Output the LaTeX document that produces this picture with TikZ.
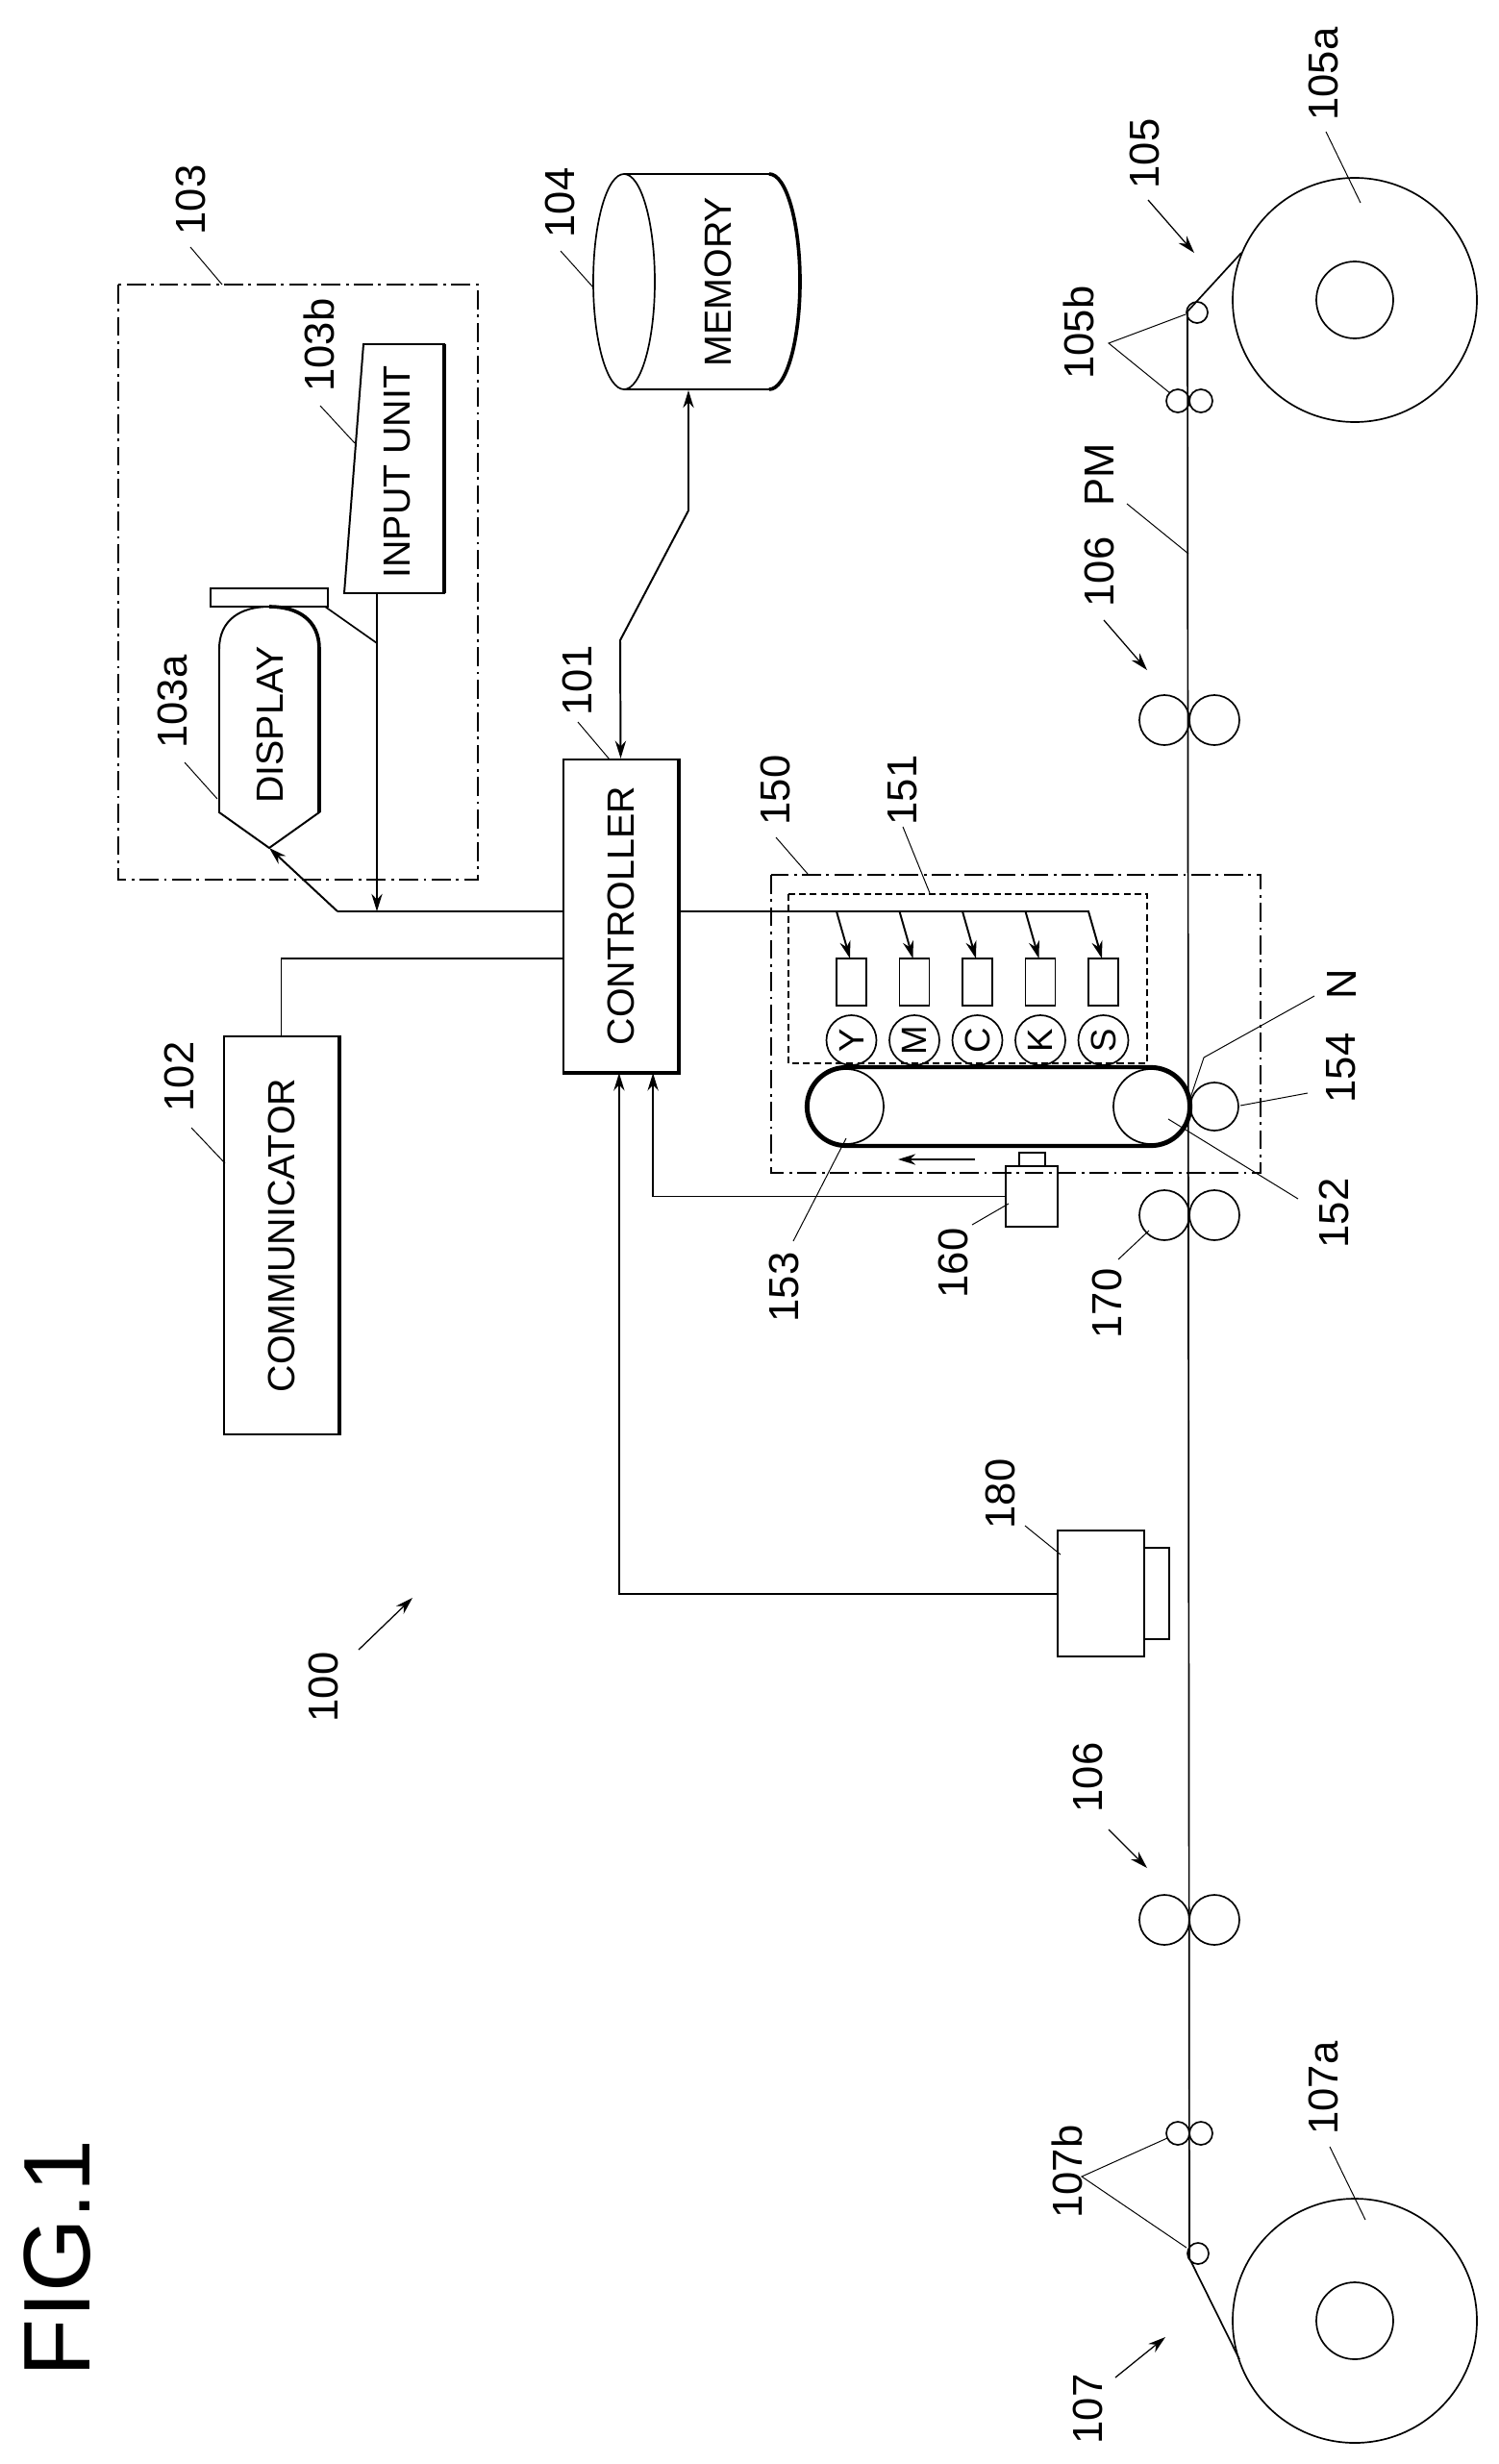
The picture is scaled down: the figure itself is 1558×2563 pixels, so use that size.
\documentclass[tikz,border=0pt]{standalone}
\usepackage{fontspec}
\setmainfont{Liberation Sans}
\usetikzlibrary{positioning,arrows.meta}

\begin{document}
\begin{tikzpicture}[x=0.025cm,y=-0.025cm,
      %style for arrows
      arrw/.style={line width=1.4pt, -{Stealth[length=13pt,width=8pt]}},
      % leader lines
      ldr/.style={line width=0.7pt},
      % labels
      lbl/.style={rotate=90, inner sep=0pt, font=\fontsize{31}{31}\selectfont},
      % boxes
      bx/.style={rectangle, draw=black, line width=1.6pt, inner sep=0pt, font=\fontsize{28}{28}\selectfont},
      dashdot/.style={line width=0.8pt, dash pattern=on 14pt off 4pt on 2pt off 4pt},
      rl/.style={line width=1.2pt}]
      \useasboundingbox (0,0) rectangle (1558,2563);

      %nodes
      \node[bx, minimum width=2.975cm, minimum height=8.125cm] (ctrl) at (645.5,952.5) {\rotatebox{90}{CONTROLLER}};
      \node[bx, minimum width=2.975cm, minimum height=10.35cm] (comm) at (292.5,1285) {\rotatebox{90}{COMMUNICATOR}};
      \node[bx, minimum width=1.35cm, minimum height=1.575cm] (sen) at (1073,1244.5) {};
      \node[bx, minimum width=2.25cm, minimum height=3.275cm] (cam) at (1145,1657.5) {};
      \draw[line width=2.6pt] (ctrl.north east) -- (ctrl.south east) -- (ctrl.south west);
      \draw[line width=2.4pt] (comm.north east) -- (comm.south east);
      \draw[line width=1.4pt] (1060,1213) rectangle (1087,1199);
      \draw[line width=1.4pt] (1190,1610) rectangle (1216,1705);

      % 103 operation unit
      \draw[dashdot] (123,296) rectangle (497,915);
      \draw[line width=1.4pt] (378,358) -- (462,358) -- (462,617) -- (358,617) -- cycle;
      \draw[line width=2.6pt] (462,358) -- (462,617);
      \node[font=\fontsize{28}{28}\selectfont] (inp) at (413,491) {\rotatebox{90}{INPUT UNIT}};
      \draw[line width=1.2pt] (219,612) rectangle (341,631);
      \draw[line width=1.4pt] (228,845) -- (228,675) .. controls (228,645) and (250,631) .. (280,631)
          .. controls (310,631) and (332,645) .. (332,675) -- (332,845) -- (280,882) -- cycle;
      \draw[line width=2.6pt] (280,631) .. controls (310,631) and (332,645) .. (332,675) -- (332,845);
      \node[font=\fontsize{28}{28}\selectfont] (dsp) at (281,754) {\rotatebox{90}{DISPLAY}};
      \coordinate (dsptip) at (280,882);
      \coordinate (inpb) at (392,617);
      \draw[line width=1.2pt] (338,631) -- (392,669);

      % 104 memory
      \draw[line width=1.2pt] (649,293) ellipse [x radius=32, y radius=112];
      \draw[line width=1.4pt] (649,181) -- (800,181) arc[start angle=-90, end angle=90, x radius=32, y radius=112] -- (649,405);
      \draw[line width=2.6pt] (800,181) arc[start angle=-90, end angle=90, x radius=32, y radius=112];
      \node[font=\fontsize{28}{28}\selectfont] (mem) at (747,293) {\rotatebox{90}{MEMORY}};
      \coordinate (memb) at (716,406);

      %edges
      \draw[arrw, {Stealth[length=13pt,width=8pt]}-{Stealth[length=13pt,width=8pt]}] (memb) -- (716,531) -- (645,666) -- (ctrl.north);
      \draw[line width=1.4pt] (ctrl.west |- 0,948) -- (351,948);
      \draw[arrw] (351,948) -- (dsptip);
      \draw[arrw] (inpb) -- (392,948);
      \draw[line width=1.4pt] (comm.north) |- (ctrl.west |- 0,997);
      \draw[line width=1.4pt] (ctrl.east |- 0,948) -- (1133,948);
      \draw[arrw] (sen.west) -| ([xshift=0.84cm]ctrl.south);
      \draw[arrw] (cam.west) -| ([xshift=-0.04cm]ctrl.south);

      % 150 image forming unit
      \draw[dashdot] (802,910) rectangle (1311,1220);
      \draw[line width=0.8pt, dash pattern=on 5pt off 3pt] (820,930) rectangle (1193,1106);
      \foreach \c [count=\i from 0] in {Y,M,C,K,S}{
        \draw[line width=1.2pt] (870+65.5*\i,997) rectangle +(31,49);
        \draw[arrw] (870+65.5*\i,948) -- (884+65.5*\i,997);
        \node[circle, draw, line width=1.2pt, minimum size=1.3cm, inner sep=0pt,
              font=\fontsize{26}{26}\selectfont] (ink\c) at (885.5+65.5*\i,1082) {\rotatebox{90}{\c}};
      }
      \draw[line width=3pt] (880,1110) -- (1197,1110) arc[start angle=-90, end angle=90, radius=41]
          -- (880,1192) arc[start angle=90, end angle=270, radius=41] -- cycle;
      \draw[rl] (880,1151) circle[radius=39];
      \draw[rl] (1197,1151) circle[radius=39];
      \draw[rl] (1263,1151) circle[radius=25];
      \draw[arrw] (1014,1206) -- (934,1206);

      % transport
      \draw[line width=1.2pt] (1291,263) -- (1235,324) -- (1237,2349) -- (1289,2454);
      \foreach \yy in {312,2414}{
        \draw[rl] (1409,\yy) circle[radius=127];
        \draw[rl] (1409,\yy) circle[radius=40];
      }
      \foreach \yy in {749,1264,1997}{
        \draw[rl] (1211,\yy) circle[radius=26];
        \draw[rl] (1263,\yy) circle[radius=26];
      }
      \foreach \yy in {417,2219}{
        \draw[rl] (1225,\yy) circle[radius=12];
        \draw[rl] (1249,\yy) circle[radius=12];
      }
      \draw[rl] (1245,325) circle[radius=11];
      \draw[rl] (1246,2344) circle[radius=11];

      % labels
      \node[lbl] (l103) at (198,208) {103};
      \node[lbl] (l104) at (582,211) {104};
      \node[lbl] (l103b) at (332,359) {103b};
      \node[lbl] (l101) at (600,708) {101};
      \node[lbl] (l103a) at (179,730) {103a};
      \node[lbl] (l102) at (186,1120) {102};
      \node[lbl] (l100) at (336,1755) {100};
      \node[lbl] (l105a) at (1376,77) {105a};
      \node[lbl] (l105) at (1190,160) {105};
      \node[lbl] (l105b) at (1122,346) {105b};
      \node[lbl] (lPM) at (1143,494) {PM};
      \node[lbl] (l106) at (1143,595) {106};
      \node[lbl] (l106b) at (1131,1849) {106};
      \node[lbl] (l107b) at (1110,2259) {107b};
      \node[lbl] (l107a) at (1376,2172) {107a};
      \node[lbl] (l107) at (1131,2506) {107};
      \node[lbl] (l150) at (806,822) {150};
      \node[lbl] (l151) at (939,822) {151};
      \node[lbl] (l153) at (815,1339) {153};
      \node[lbl] (l160) at (991,1314) {160};
      \node[lbl] (l170) at (1151,1356) {170};
      \node[lbl] (l152) at (1387,1262) {152};
      \node[lbl] (l154) at (1395,1111) {154};
      \node[lbl] (lN) at (1395,1024) {N};
      \node[lbl] (l180) at (1040,1554) {180};
      \node[rotate=90, inner sep=0pt, font=\fontsize{70}{70}\selectfont] (fig) at (60,2349) {FIG.1};

      % leaders
      \draw[ldr] (198,257) -- (231,296);
      \draw[ldr] (583,261) -- (617,299);
      \draw[ldr] (333,422) -- (369,461);
      \draw[ldr] (601,751) -- (634,790);
      \draw[ldr] (192,793) -- (226,831);
      \draw[ldr] (199,1173) -- (234,1210);
      \draw[ldr] (1379,137) -- (1415,211);
      \draw[ldr] (1233,327) -- (1153,357) -- (1217,409);
      \draw[ldr] (1172,524) -- (1236,576);
      \draw[ldr] (807,871) -- (840,909);
      \draw[ldr] (939,860) -- (967,929);
      \draw[ldr] (825,1291) -- (880,1184);
      \draw[ldr] (1011,1274) -- (1049,1252);
      \draw[ldr] (1163,1310) -- (1195,1280);
      \draw[ldr] (1350,1247) -- (1215,1164);
      \draw[ldr] (1360,1137) -- (1290,1150);
      \draw[ldr] (1367,1036) -- (1252,1100) -- (1237,1145);
      \draw[ldr] (1066,1587) -- (1103,1617);
      \draw[ldr] (1383,2233) -- (1420,2309);
      \draw[ldr] (1214,2224) -- (1125,2264) -- (1234,2338);
      \draw[arrw, line width=0.9pt] (1194,208) -- (1242,263);
      \draw[arrw, line width=0.9pt] (1148,645) -- (1193,697);
      \draw[arrw, line width=0.9pt] (1153,1903) -- (1193,1943);
      \draw[arrw, line width=0.9pt] (1160,2473) -- (1212,2431);
      \draw[arrw, line width=0.9pt] (373,1716) -- (429,1662);
\end{tikzpicture}
\end{document}
